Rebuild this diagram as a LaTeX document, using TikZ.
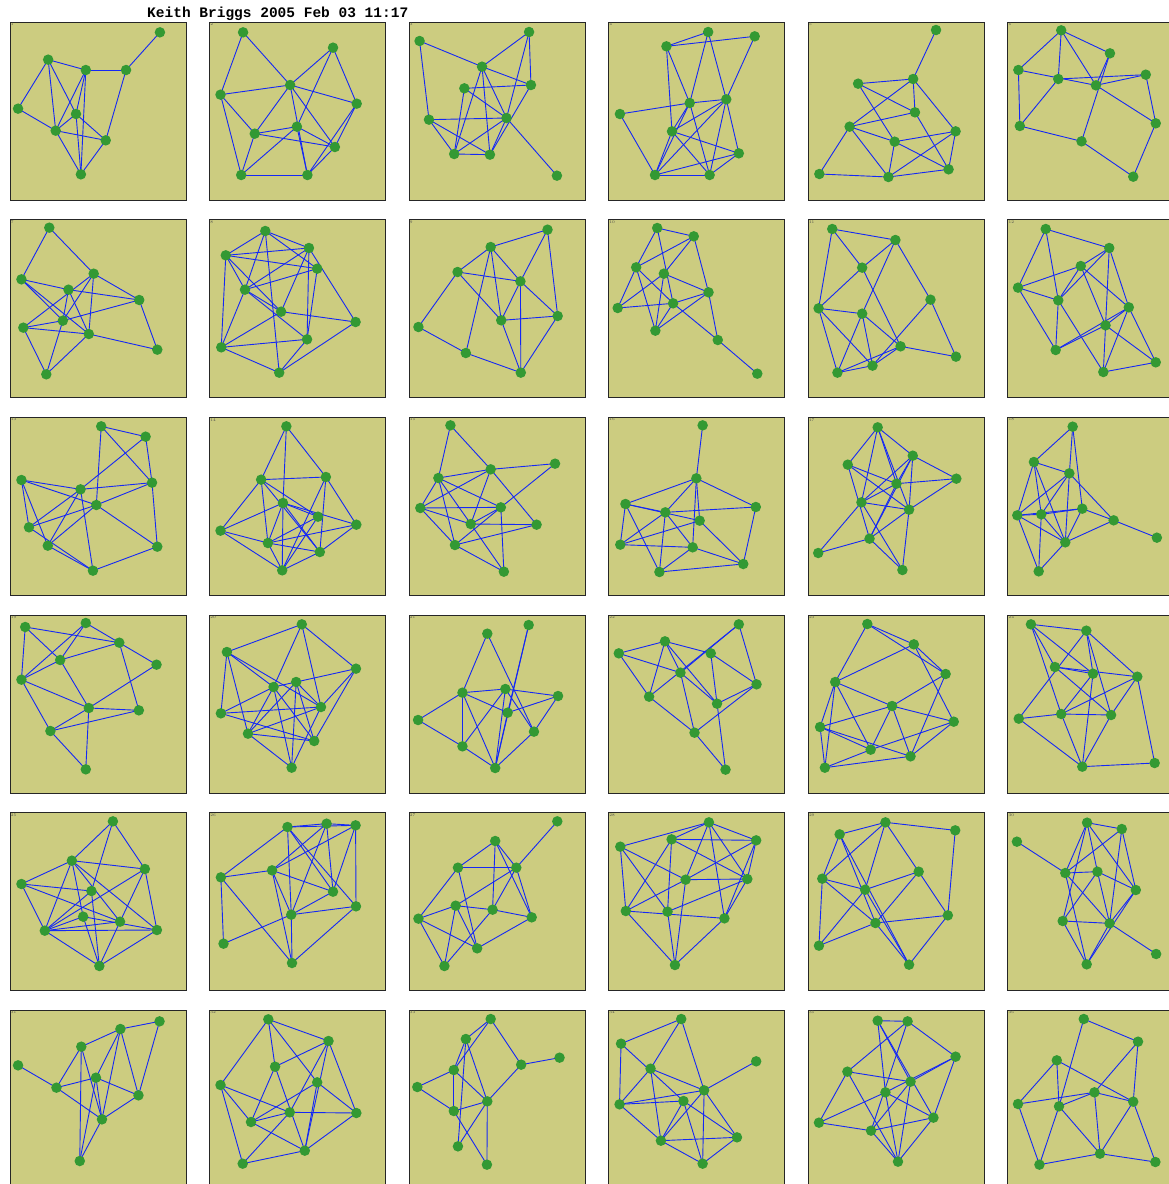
\documentclass[tikz,border=0pt]{standalone}
\usepackage{fontspec}
\newfontfamily\titlefont{Liberation Mono}
\definecolor{khaki}{RGB}{204,204,128}
\definecolor{ngreen}{RGB}{51,153,51}
\definecolor{eblue}{RGB}{20,40,245}
\pgfdeclarelayer{bg}
\pgfdeclarelayer{edges}
\pgfsetlayers{bg,edges,main}
\tikzset{
 vtx/.style={circle,fill=ngreen,inner sep=0pt,minimum size=10.5pt},
 gline/.style={draw=eblue,line width=0.9pt},
 pnl/.style={fill=khaki,draw=black!85,line width=1pt},
 plabel/.style={font=\fontsize{4}{4}\selectfont,text=black!70,inner sep=0.6pt,anchor=north west}
}
\newcommand\gpanel[6]{%
 \begin{scope}[shift={(#2,#3)},xscale=#4,yscale=0.33333]
  \foreach \n/\px/\py in {#5} {\node[vtx] (p#1\n) at (\px,\py) {};}
  \begin{pgfonlayer}{edges}
   \foreach \u/\w in {#6} {\draw[gline] (p#1\u.center) -- (p#1\w.center);}
  \end{pgfonlayer}
 \end{scope}}
\begin{document}
\begin{tikzpicture}[x=1pt,y=-1pt]
\path[use as bounding box] (0,0) rectangle (1169,1184);
\begin{pgfonlayer}{bg}
\fill[white] (0,0) rectangle (1169,1184);
\foreach \r in {0,...,5} \foreach \c in {0,...,5} {
  \pgfmathsetmacro\xo{10+199.55*\c}
  \pgfmathsetmacro\yo{22.3+197.6*\r}
  \pgfmathtruncatemacro\k{\r*6+\c+1}
  \draw[pnl] (\xo,\yo) rectangle ++(176,178);
  \node[plabel] (lab\k) at (\xo,\yo) {\k};
}
\end{pgfonlayer}
\node[font=\titlefont\bfseries\fontsize{14.5}{16}\selectfont,anchor=base west,inner sep=0pt] (title) at (147,17.3) {Keith Briggs 2005 Feb 03 11:17};
% row 1
\gpanel{1}{0}{0}{0.3763}{a/425/97,b/128/179,c/228/210,d/335/210,e/48/326,f/202/342,g/148/392,h/281/421,i/215/523}
 {a/d,c/d,b/c,b/e,b/g,b/f,e/g,c/g,c/i,f/i,c/f,d/h,g/h,f/h,g/i,h/i,g/f}
\gpanel{2}{0}{0}{0.3763}{a/646/97,b/885/143,c/771/255,d/586/284,e/948/311,f/789/380,g/677/401,h/890/441,i/641/525,j/817/525}
 {a/d,a/c,d/c,d/g,d/i,c/b,c/e,c/g,c/j,f/j,c/h,b/f,b/e,e/h,e/j,g/f,g/h,g/i,f/i,f/h,i/j,h/j}
\gpanel{3}{0}{0}{0.3763}{a/1115/123,b/1406/96,c/1281/200,d/1234/265,e/1411/255,f/1140/359,g/1346/354,h/1207/462,i/1302/464,j/1480/527}
 {a/c,a/f,c/b,b/e,b/g,c/e,c/g,c/i,c/h,d/e,d/h,d/g,f/g,f/h,f/i,g/h,g/i,g/j,h/i,e/i}
\gpanel{4}{590}{0}{0.3693}{a/320/96,b/207/139,c/446/109,d/81/342,e/270/309,f/369/298,g/222/394,h/403/460,i/176/525,j/324/525}
 {b/a,b/c,a/e,a/f,c/f,b/e,b/g,d/e,e/f,d/i,e/g,e/i,e/j,f/g,f/h,f/i,f/j,g/h,g/j,g/i,i/j,i/h,j/h}
\gpanel{5}{590}{0}{0.3693}{a/937/90,b/726/251,c/875/237,d/880/337,e/703/380,f/990/394,g/825/425,h/621/522,i/808/531,j/971/508}
 {a/c,b/c,b/d,b/g,c/d,c/e,c/f,d/e,d/j,e/h,e/g,e/i,g/f,g/i,g/j,f/i,f/j,h/i,i/j}
\gpanel{6}{590}{0}{0.3693}{a/1276/91,b/1408/160,c/1160/210,d/1268/237,e/1370/256,f/1505/224,g/1532/370,h/1164/378,i/1331/424,j/1471/530}
 {a/c,a/d,a/e,a/b,b/i,b/e,c/e,c/h,d/f,e/f,d/h,e/g,f/g,h/i,i/j,g/j}
% row 2
\gpanel{7}{0}{205}{0.3763}{a/131/68,b/57/223,c/249/206,d/182/254,e/370/285,f/62/368,g/167/347,h/236/387,i/418/434,j/123/508}
 {a/b,a/c,b/h,b/g,b/d,d/e,c/f,c/g,c/h,c/e,d/g,d/h,f/g,f/h,f/j,g/e,g/j,h/j,h/i,e/i}
\gpanel{8}{0}{205}{0.3763}{a/705/78,b/600/151,c/821/129,d/843/191,e/651/254,f/747/320,g/945/351,h/588/427,i/816/403,j/742/503}
 {a/b,a/c,a/d,a/e,b/c,b/d,b/e,b/h,b/f,c/e,c/g,c/i,d/e,d/i,e/h,e/f,e/i,f/g,f/h,a/j,h/i,h/j,i/j,g/j,c/f}
\gpanel{9}{0}{205}{0.3763}{a/1455/74,b/1304/126,c/1216/201,d/1383/229,e/1482/333,f/1332/346,g/1112/366,h/1238/444,i/1384/503}
 {a/b,a/d,a/e,b/c,b/d,b/f,b/h,c/d,c/f,c/g,d/f,d/e,d/i,f/e,f/i,g/h,h/i,e/i}
\gpanel{10}{590}{205}{0.3693}{a/182/69,b/281/94,c/125/187,d/200/206,e/75/309,f/225/295,g/321/262,h/177/377,i/346/405,j/453/506}
 {a/b,a/c,a/f,b/c,b/d,b/g,c/e,c/f,c/h,d/g,d/e,d/h,e/f,f/g,f/h,f/i,g/h,g/i,i/j}
\gpanel{11}{590}{205}{0.3693}{a/656/72,b/827/105,c/737/188,d/619/310,e/737/326,f/922/284,g/841/424,h/991/455,i/670/503,j/765/482}
 {a/b,a/c,a/d,b/c,b/e,b/f,c/d,c/g,d/e,d/i,d/j,e/i,e/j,e/g,f/j,f/h,g/h,g/i,g/j,i/j}
\gpanel{12}{590}{205}{0.3693}{a/1234/72,b/1406/129,c/1329/183,d/1159/248,e/1268/286,f/1459/307,g/1396/361,h/1261/435,i/1390/501,j/1532/472}
 {a/b,a/d,a/e,b/c,b/e,b/i,b/f,c/d,c/e,c/g,c/f,d/e,d/h,e/h,e/i,f/h,f/g,f/i,g/h,g/j,f/j,i/j}
% row 3
\gpanel{13}{0}{403}{0.3763}{a/269/70,b/387/101,c/57/231,d/404/239,e/214/259,f/256/306,g/77/373,h/127/428,i/418/431,j/247/503}
 {a/b,a/d,a/f,b/d,b/e,c/e,c/f,c/g,c/h,e/d,e/g,e/h,e/j,f/d,f/g,f/h,f/i,d/i,g/j,h/j,i/j}
\gpanel{14}{0}{403}{0.3763}{a/761/70,b/694/230,c/866/222,d/752/300,e/845/341,f/586/383,g/947/365,h/712/420,i/850/447,j/750/502}
 {a/b,a/c,a/d,b/c,b/f,b/h,b/e,b/i,c/g,c/i,c/j,d/f,d/g,d/e,d/h,d/j,d/i,e/h,e/j,f/h,f/j,g/h,g/i,h/j,h/i,i/j}
\gpanel{15}{0}{403}{0.3763}{a/1197/67,b/1304/199,c/1475/182,d/1165/225,e/1117/315,f/1331/313,g/1251/363,h/1426/365,i/1209/426,j/1339/506}
 {a/b,a/d,b/c,b/d,b/e,b/g,b/h,c/f,d/e,d/f,d/g,d/i,e/f,e/g,e/i,f/g,f/i,f/j,g/h,g/j,i/h,i/j}
\gpanel{16}{590}{403}{0.3693}{a/305/67,b/288/226,c/96/303,d/204/328,e/449/312,f/297/353,g/82/425,h/278/433,i/415/483,j/188/507}
 {a/b,b/c,b/d,b/e,b/f,b/h,c/d,c/f,c/g,c/j,d/e,d/g,d/h,d/j,f/g,f/i,g/h,h/j,h/i,e/i,i/j}
\gpanel{17}{590}{403}{0.3693}{a/779/73,b/698/185,c/874/158,d/830/242,e/992/227,f/735/298,g/864/320,h/757/407,i/618/450,j/846/501}
 {a/b,a/c,a/f,a/g,a/d,b/d,b/g,b/h,c/d,c/f,c/g,c/e,c/h,d/e,d/f,d/h,f/g,f/i,f/j,g/e,g/h,g/j,h/i,h/j}
\gpanel{18}{590}{403}{0.3693}{a/1307/71,b/1202/177,c/1298/211,d/1157/337,e/1222/334,f/1333/317,g/1418/352,h/1287/418,i/1535/404,j/1215/505}
 {a/b,a/c,a/f,b/c,b/d,b/e,b/h,c/d,c/e,c/h,c/g,d/e,d/f,d/h,d/j,e/f,e/h,e/j,f/h,f/g,g/h,g/i,h/j}
% row 4
\gpanel{19}{0}{601}{0.3763}{a/67/78,b/228/66,c/317/125,d/416/191,e/160/177,f/57/236,g/236/321,h/369/328,i/134/390,j/228/505}
 {a/c,a/e,a/f,b/d,b/e,b/f,c/e,c/h,e/f,e/g,f/g,f/i,g/h,g/d,g/i,g/j,i/h,i/j}
\gpanel{20}{0}{601}{0.3763}{a/802/70,b/603/153,c/946/203,d/727/258,e/787/243,f/587/337,g/853/318,h/659/398,i/835/420,j/775/500}
 {a/b,a/c,a/d,a/g,b/d,b/g,b/f,b/h,c/e,c/g,c/i,d/e,d/f,d/h,d/i,d/j,e/g,e/h,e/i,e/j,f/g,f/i,g/h,g/j,h/i,h/j}
\gpanel{21}{0}{601}{0.3763}{a/1295/98,b/1405/72,c/1229/275,d/1343/264,e/1483/285,f/1349/335,g/1111/357,h/1419/392,i/1229/436,j/1316/501}
 {a/c,a/h,b/f,b/j,c/d,c/g,c/i,c/j,c/f,d/e,d/h,d/i,d/j,e/f,e/h,g/i,h/j,i/j,f/j}
\gpanel{22}{590}{601}{0.3693}{a/403/70,b/203/121,c/78/157,d/327/157,e/245/215,f/451/250,g/160/287,h/344/308,i/283/395,j/367/506}
 {a/g,a/e,a/f,b/c,b/d,b/g,b/e,b/h,c/e,c/g,d/f,d/h,e/h,e/i,f/h,f/i,g/i,h/j,i/j}
\gpanel{23}{590}{601}{0.3693}{a/751/69,b/877/130,c/963/219,d/664/243,e/818/315,f/985/362,g/623/378,h/760/446,i/868/466,j/636/500}
 {a/b,a/c,a/d,b/d,b/c,b/f,c/e,c/i,d/e,d/g,d/j,d/h,e/g,e/f,e/h,e/i,f/h,f/i,g/h,g/i,g/j,j/h,j/i}
\gpanel{24}{590}{601}{0.3693}{a/1194/70,b/1344/89,c/1259/198,d/1362/218,e/1482/227,f/1161/353,g/1276/339,h/1411/342,i/1333/497,j/1529/486}
 {a/b,a/c,a/d,a/g,b/f,b/d,b/e,b/h,c/d,c/e,c/h,d/g,d/i,e/g,e/h,e/j,f/g,f/i,g/h,g/i,h/i,i/j}
% row 5
\gpanel{25}{0}{799}{0.3763}{a/300/67,b/191/185,c/385/210,d/57/255,e/243/276,f/221/353,g/319/368,h/119/395,i/417/393,j/264/501}
 {a/b,a/c,a/e,b/c,b/d,b/h,b/f,b/g,b/i,d/e,d/h,d/g,c/h,c/g,c/i,e/h,e/j,f/h,f/i,f/j,g/h,g/j,h/j,i/j,h/i}
\gpanel{26}{0}{799}{0.3763}{a/764/84,b/868/74,c/945/79,d/587/235,e/723/214,f/885/278,g/946/322,h/774/347,i/594/434,j/776/492}
 {a/b,b/c,a/c,a/d,a/h,a/f,a/g,b/e,b/f,b/h,c/e,c/g,c/f,d/e,d/i,d/j,e/f,e/h,e/j,f/h,h/g,h/i,h/j,g/j}
\gpanel{27}{0}{799}{0.3763}{a/1481/67,b/1316/126,c/1217/206,d/1372/206,e/1211/320,f/1309/332,g/1413/355,h/1112/359,i/1268/448,j/1181/501}
 {a/d,b/c,b/f,b/d,b/g,c/d,c/h,c/i,d/e,d/g,d/f,e/h,e/f,e/i,e/j,f/g,f/j,h/i,h/j,i/g}
\gpanel{28}{590}{799}{0.3693}{a/322/70,b/221/121,c/450/124,d/82/143,e/259/242,f/426/240,g/97/336,h/210/338,i/364/358,j/230/498}
 {a/b,a/c,a/d,a/e,a/f,a/i,b/c,b/f,b/g,b/h,c/e,c/f,c/i,d/e,d/g,d/h,e/f,e/g,e/j,f/h,f/i,g/i,g/j,h/j,i/j}
\gpanel{29}{590}{799}{0.3693}{a/800/70,b/676/106,c/989/94,d/629/239,e/890/218,f/745/272,g/969/349,h/773/372,i/620/440,j/864/497}
 {a/b,a/c,a/d,a/f,a/e,b/d,b/h,b/j,c/g,d/f,d/h,d/i,e/f,e/g,e/h,f/i,f/j,g/h,g/j,h/i,h/j}
\gpanel{30}{590}{799}{0.3693}{a/1346/71,b/1440/90,c/1156/128,d/1287/222,e/1374/218,f/1478/273,g/1280/366,h/1407/373,i/1345/496,j/1533/465}
 {a/b,a/d,a/e,a/f,a/g,b/d,b/f,b/h,c/d,d/e,d/h,d/i,e/f,e/g,e/h,f/h,f/i,g/h,g/i,h/i,h/j}
% row 6
\gpanel{31}{0}{997}{0.3763}{a/424/73,b/320/96,c/216/149,d/48/205,e/255/242,f/150/272,g/368/295,h/271/367,i/212/492}
 {a/b,a/g,b/c,b/e,b/g,b/h,c/f,c/h,c/i,d/f,e/f,e/g,e/h,e/i,f/h,g/h,h/i}
\gpanel{32}{0}{997}{0.3763}{a/713/67,b/873/132,c/731/209,d/586/264,e/843/256,f/770/346,g/947/348,h/667/375,i/810/461,j/645/500}
 {a/d,a/b,a/c,a/e,b/c,b/f,b/i,b/g,c/h,c/i,d/f,d/h,d/j,e/h,e/g,e/i,f/g,f/h,f/j,h/i,i/j,i/g}
\gpanel{33}{0}{997}{0.3763}{a/1304/66,b/1238/126,c/1206/219,d/1385/203,e/1487/182,f/1109/270,g/1295/313,h/1206/342,i/1217/448,j/1294/503}
 {a/b,a/c,a/d,b/c,b/g,b/i,c/f,c/g,c/h,d/e,d/g,f/h,g/h,g/i,g/j,h/j}
\gpanel{34}{590}{997}{0.3693}{a/247/66,b/84/140,c/164/215,d/450/193,e/309/280,f/80/322,g/253/312,h/192/431,i/398/421,j/305/500}
 {a/b,a/c,a/e,b/f,b/g,c/f,c/h,c/e,d/e,e/f,e/h,e/i,e/j,f/g,f/h,g/h,g/i,g/j,h/i,h/j,i/j}
\gpanel{35}{590}{997}{0.3693}{a/779/71,b/860/73,c/990/179,d/697/224,e/868/254,f/800/286,g/930/362,h/620/377,i/761/401,j/834/494}
 {a/b,a/e,a/g,a/f,b/c,b/d,b/i,c/e,c/f,c/g,d/e,d/h,d/j,e/i,e/j,f/g,f/h,f/j,g/i,g/j,h/i,i/j}
\gpanel{36}{590}{997}{0.3693}{a/1337/66,b/1484/134,c/1264/190,d/1159/321,e/1270/328,f/1366/286,g/1471/314,h/1381/470,i/1217/503,j/1531/495}
 {a/b,a/e,b/g,b/f,c/d,c/e,c/g,d/f,d/i,e/f,e/i,e/h,f/g,f/h,g/h,g/j,h/i,h/j}
\end{tikzpicture}
\end{document}
